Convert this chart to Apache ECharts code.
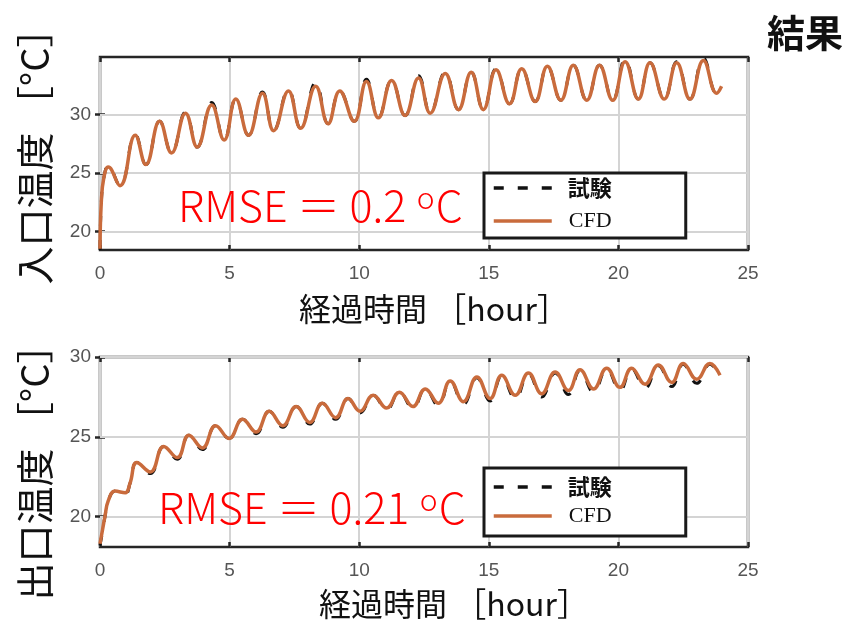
<!DOCTYPE html>
<html><head><meta charset="utf-8">
<script src="https://cdn.jsdelivr.net/npm/echarts@6/dist/echarts.min.js"></script>
<style>html,body{margin:0;padding:0;background:#fff}#c{width:849px;height:625px}</style>
</head><body><div id="c"></div>
<script>
const seriesNames = ['試験', 'CFD'];
const yTicks = [20, 25, 30];
const xMin = 0, xMax = 25, xStep = 5;

const inletTime = [0, 0.05, 0.15, 0.32, 0.77, 1.36, 1.77, 2.30, 2.76, 3.30, 3.75, 4.31, 4.79, 5.24,
  5.73, 6.27, 6.70, 7.27, 7.74, 8.32, 8.80, 9.25, 9.81, 10.28, 10.74, 11.25, 11.77, 12.29, 12.74, 13.32,
  13.83, 14.32, 14.79, 15.28, 15.80, 16.27, 16.79, 17.26, 17.78, 18.26, 18.78, 19.27, 19.78, 20.26,
  20.77, 21.22, 21.77, 22.25, 22.76, 23.28, 23.79, 23.98];
const inletCFD = [18.5, 22.5, 24.6, 25.5, 23.9, 28.2, 25.7, 29.4, 26.7, 30.1, 27.2, 30.8, 27.8, 31.3,
  28.2, 31.8, 28.6, 32.0, 28.8, 32.4, 29.2, 32.0, 29.4, 32.8, 29.7, 32.9, 29.9, 33.1, 30.1, 33.5,
  30.4, 33.6, 30.4, 33.8, 30.9, 33.9, 31.1, 34.1, 31.2, 34.2, 31.2, 34.2, 31.2, 34.5,
  31.3, 34.4, 31.3, 34.4, 31.3, 34.6, 31.8, 32.4];
const inletTest = [18.4, 22.4, 24.6, 25.6, 23.9, 28.3, 25.7, 29.4, 26.7, 30.2, 27.2, 31.0, 27.8, 31.3,
  28.2, 31.9, 28.6, 32.1, 28.8, 32.7, 29.2, 32.0, 29.4, 33.0, 29.7, 32.9, 29.9, 33.3, 30.1, 33.6,
  30.4, 33.6, 30.4, 33.9, 30.9, 33.9, 31.1, 34.1, 31.2, 34.2, 31.2, 34.2, 31.2, 34.7,
  31.3, 34.4, 31.3, 34.5, 31.3, 34.8, 31.8, 32.4];

const outletTime = [0, 0.1, 0.19, 0.32, 0.58, 0.97, 1.16, 1.42, 1.94, 2.46, 2.98, 3.43, 3.95, 4.46,
  4.98, 5.50, 6.02, 6.53, 7.05, 7.57, 8.09, 8.58, 9.09, 9.57, 10.03, 10.54, 11.06, 11.55, 12.07, 12.55,
  13.05, 13.51, 14.02, 14.54, 15.05, 15.50, 16.02, 16.53, 17.04, 17.56, 18.07, 18.52, 19.04, 19.55,
  20.06, 20.51, 21.03, 21.54, 22.06, 22.50, 23.02, 23.53, 23.92];
const outletCFD = [18.3, 19.2, 20.0, 21.0, 21.6, 21.5, 22.1, 23.4, 22.8, 24.4, 23.7, 25.1, 24.3, 25.7,
  24.9, 26.1, 25.3, 26.6, 25.7, 26.9, 25.9, 27.1, 26.2, 27.4, 26.6, 27.6, 26.8, 27.8, 26.9, 28.0,
  27.1, 28.5, 27.2, 28.75, 27.4, 28.85, 27.6, 29.0, 27.7, 29.06, 27.9, 29.2, 28.0, 29.3,
  28.1, 29.3, 28.3, 29.5, 28.4, 29.6, 28.6, 29.6, 28.85];
const outletTest = [18.2, 19.1, 20.0, 21.0, 21.6, 21.4, 22.1, 23.4, 22.7, 24.4, 23.6, 25.1, 24.2, 25.7,
  24.9, 26.1, 25.2, 26.6, 25.6, 26.9, 25.8, 27.1, 26.1, 27.4, 26.5, 27.6, 26.7, 27.8, 26.8, 28.0,
  26.95, 28.5, 27.05, 28.7, 27.25, 28.8, 27.4, 28.95, 27.5, 29.0, 27.65, 29.15, 27.8, 29.25,
  27.9, 29.25, 28.05, 29.45, 28.15, 29.55, 28.35, 29.55, 28.65];

const pairs = (t, v) => t.map((x, i) => [x, v[i]]);
const AX = '#262626', GRIDC = '#d4d4d4', LBL = '#555';
const CFDC = '#c96b3c';
const DASH = [10, 14];

const grids = [
  {left: 100, top: 57, width: 648, height: 193, min: 18.4, max: 34.9},
  {left: 100, top: 357, width: 648, height: 190, min: 18.1, max: 30}
];

const option = {
  animation: false,
  backgroundColor: '#fff',
  grid: grids.map(g => ({left: g.left, top: g.top, width: g.width, height: g.height,
    show: true, borderColor: AX, borderWidth: 2.5, backgroundColor: '#fff'})),
  xAxis: [],
  yAxis: [],
  series: [],
  legend: [],
  graphic: []
};

grids.forEach((g, gi) => {
  option.xAxis.push({
    type: 'value', gridIndex: gi, min: xMin, max: xMax, interval: xStep, position: 'bottom',
    axisLine: {show: false},
    axisTick: {inside: true, length: 5, lineStyle: {color: AX, width: 2.5}},
    axisLabel: {color: LBL, fontSize: 19, fontFamily: 'Liberation Sans', margin: 14},
    splitLine: {show: true, lineStyle: {color: GRIDC, width: 2}}
  });
  option.xAxis.push({
    type: 'value', gridIndex: gi, min: xMin, max: xMax, interval: xStep, position: 'top',
    axisLine: {show: false},
    axisTick: {inside: true, length: 5, lineStyle: {color: AX, width: 2.5}},
    axisLabel: {show: false}, splitLine: {show: false}
  });
  option.yAxis.push({
    type: 'value', gridIndex: gi, min: g.min, max: g.max, position: 'left',
    axisLine: {show: false},
    axisTick: {inside: true, length: 5, customValues: yTicks, lineStyle: {color: AX, width: 2.5}},
    axisLabel: {color: LBL, fontSize: 19, fontFamily: 'Liberation Sans', margin: 9, customValues: yTicks},
    splitLine: {show: false}
  });
  option.yAxis.push({
    type: 'value', gridIndex: gi, min: g.min, max: g.max, position: 'right',
    axisLine: {show: false},
    axisTick: {inside: true, length: 5, customValues: yTicks, lineStyle: {color: AX, width: 2.5}},
    axisLabel: {show: false}, splitLine: {show: false}
  });
  const xi = gi * 2, yi = gi * 2;
  option.series.push({
    type: 'line', xAxisIndex: xi, yAxisIndex: yi, data: [], z: 1, silent: true,
    markLine: {silent: true, z: 1, symbol: ['none', 'none'], label: {show: false},
      lineStyle: {color: GRIDC, width: 2, type: 'solid'},
      data: yTicks.map(v => ({yAxis: v}))}
  });
  const test = gi === 0 ? inletTest : outletTest;
  const cfd = gi === 0 ? inletCFD : outletCFD;
  const tt = gi === 0 ? inletTime : outletTime;
  option.series.push({
    name: seriesNames[0], type: 'line', xAxisIndex: xi, yAxisIndex: yi, symbol: 'none',
    smooth: 0.45, data: pairs(tt, test), z: 3,
    lineStyle: {color: '#111', width: 3, type: DASH}, itemStyle: {color: '#111'}
  });
  option.series.push({
    name: seriesNames[1], type: 'line', xAxisIndex: xi, yAxisIndex: yi, symbol: 'none',
    smooth: 0.45, data: pairs(tt, cfd), z: 4,
    lineStyle: {color: CFDC, width: 3.5}, itemStyle: {color: CFDC}
  });
});

const legendPos = [
  {top: 173, gap: 11, padding: [4, 74, 6, 8]},
  {top: 468, gap: 7, padding: [8, 74, 9, 8]}
];
legendPos.forEach(l => {
  option.legend.push({
    left: 484, top: l.top, z: 10, orient: 'vertical', data: seriesNames,
    itemWidth: 58, itemHeight: 20, itemGap: l.gap, padding: l.padding,
    backgroundColor: '#fff', borderColor: '#1a1a1a', borderWidth: 3, borderRadius: 0,
    selectedMode: false,
    itemStyle: {opacity: 0},
    lineStyle: {width: 3.5},
    formatter: n => n === 'CFD' ? '{c|' + n + '}' : '{t|' + n + '}',
    textStyle: {
      rich: {
        t: {fontFamily: 'Noto Sans CJK JP', fontWeight: 'bold', fontSize: 22, color: '#111', padding: [0, 0, 0, 11], lineHeight: 20},
        c: {fontFamily: 'Liberation Serif', fontSize: 22, color: '#111', padding: [0, 0, 0, 12], lineHeight: 20}
      }
    }
  });
});

const jp = 'Noto Sans CJK JP';
const addText = (x, y, text, size, opts) => option.graphic.push(Object.assign({
  type: 'text', x: x, y: y, silent: true, z: 100,
  style: {text: text, fontSize: size, fontFamily: jp, fill: '#111', align: 'center', verticalAlign: 'middle'}
}, opts || {}));

addText(35, 147, '入口温度 ［°C］', 38, {rotation: Math.PI / 2});
addText(35, 463, '出口温度 ［°C］', 38, {rotation: Math.PI / 2});
addText(434, 309, '経過時間 ［hour］', 32);
addText(454, 604, '経過時間 ［hour］', 32);
option.graphic.push({type: 'text', x: 805, y: 33, silent: true, z: 100,
  style: {text: '結果', fontSize: 38, fontWeight: 'bold', fontFamily: jp, fill: '#111', align: 'center', verticalAlign: 'middle'}});

const rmse = (x, y, val) => option.graphic.push({
  type: 'text', x: x, y: y, silent: true, z: 100,
  style: {
    text: '{m|RMSE ＝ ' + val + ' }{s|o}{m|C}', align: 'left', verticalAlign: 'middle',
    rich: {
      m: {fontSize: 43, fontWeight: 300, fontFamily: jp, fill: '#ff0000', color: '#ff0000', lineHeight: 48, verticalAlign: 'bottom'},
      s: {fontSize: 30, fontWeight: 300, fontFamily: jp, fill: '#ff0000', color: '#ff0000', lineHeight: 30, verticalAlign: 'top', padding: [4, 1, 0, 1]}
    }
  }
});
rmse(178, 203, '0.2');
rmse(158, 505, '0.21');

echarts.init(document.getElementById('c')).setOption(option);
</script></body></html>
